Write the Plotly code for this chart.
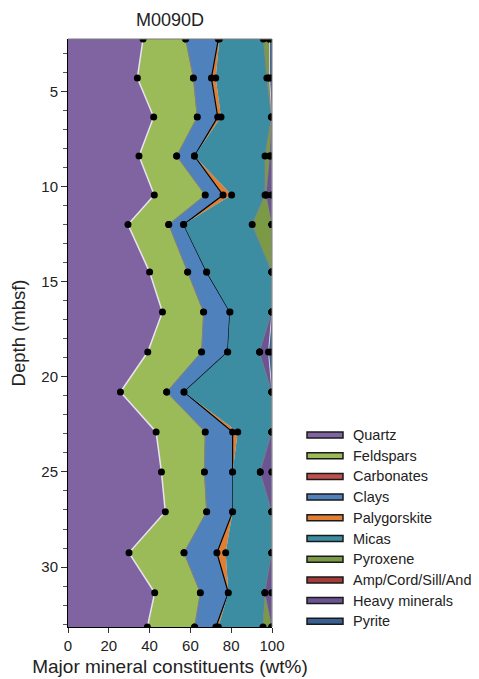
import plotly.graph_objects as go

# ---- data ----
depth = [2.25, 4.3, 6.35, 8.4, 10.45, 12.0, 14.5, 16.6, 18.7, 20.8, 22.9, 25.0, 27.1, 29.25, 31.35, 33.15]

quartz       = [36.8, 34.0, 42.0, 34.8, 42.3, 29.4, 40.0, 46.3, 39.1, 25.7, 43.2, 45.8, 47.7, 29.9, 42.5, 38.9]
feldspars    = [20.9, 27.5, 21.4, 18.5, 25.0, 20.0, 18.7, 20.2, 26.4, 22.7, 24.1, 21.1, 20.3, 27.0, 22.4, 23.2]
carbonates   = [0.0] * 16
clays        = [16.0, 8.8, 10.0, 8.7, 8.7, 7.3, 9.3, 12.9, 12.8, 8.5, 13.4, 13.8, 12.7, 16.1, 13.7, 10.4]
palygorskite = [0.5, 2.1, 1.6, 0.0, 4.2, 0.0, 0.0, 0.0, 0.0, 0.0, 2.5, 0.0, 0.0, 4.3, 0.0, 1.2]
micas        = [21.6, 25.1, 24.7, 34.6, 16.4, 33.6, 32.0, 20.6, 15.7, 43.1, 16.8, 13.6, 19.3, 22.7, 18.0, 21.9]
pyroxene     = [3.0, 1.3, 0.3, 2.4, 0.6, 9.7, 0.0, 0.0, 0.0, 0.0, 0.0, 0.0, 0.0, 0.0, 0.0, 4.4]
amp          = [0.0] * 16
heavy        = [0.0, 0.0, 0.0, 1.0, 2.8, 0.0, 0.0, 0.0, 4.3, 0.0, 0.0, 5.7, 0.0, 0.0, 3.4, 0.0]
pyrite       = [1.2, 1.2, 0.0, 0.0, 0.0, 0.0, 0.0, 0.0, 1.7, 0.0, 0.0, 0.0, 0.0, 0.0, 0.0, 0.0]

names = ["Quartz", "Feldspars", "Carbonates", "Clays", "Palygorskite", "Micas",
         "Pyroxene", "Amp/Cord/Sill/And", "Heavy minerals", "Pyrite"]
series = [quartz, feldspars, carbonates, clays, palygorskite, micas, pyroxene, amp, heavy, pyrite]
fill_colors = ["#8064A2", "#9BBB59", "#C0504D", "#4F81BD", "#E07E34", "#3C8CA2",
               "#7A9A45", "#A33B38", "#6C5494", "#3A5F92"]
line_colors = ["#E8E2F2", "#808080", "#808080", "#000000", "rgba(0,0,0,0)", "#808080",
               "#808080", "rgba(0,0,0,0)", "#D8D0E6", "#808080"]
line_widths = [1.5, 1, 1, 1.2, 0, 1, 1, 0, 1, 1]

FONT = "Liberation Sans, Arial, sans-serif"

# page body has an 8px margin: figure origin sits at page (8, 8)
OFF = 8
W, H = 479 - OFF, 679 - OFF
PL, PR, PT, PB = 68, 272, 39, 627       # plot area in page pixels
ML, MT = PL - OFF, PT - OFF
MR, MB = W - (PR - OFF), H - (PB - OFF)
plot_w = PR - PL
plot_h = PB - PT

fig = go.Figure()
for name, vals, fc, lc, lw in zip(names, series, fill_colors, line_colors, line_widths):
    fig.add_trace(go.Scatter(
        x=vals, y=depth, name=name, stackgroup="one", orientation="h",
        mode="lines+markers", fillcolor=fc,
        line=dict(color=lc, width=lw),
        marker=dict(color="black", size=7),
        showlegend=False, hoverinfo="x+y+name",
    ))

# ---- manual legend (bordered swatches) ----
shapes = []
annotations = []
for i, (name, fc) in enumerate(zip(names, fill_colors)):
    yc = 435 + 20.7 * i          # pixel centre in page
    off = PB - yc                # pixels above plot bottom
    shapes.append(dict(type="rect", xref="paper", yref="paper",
                       xsizemode="pixel", ysizemode="pixel",
                       xanchor=1, yanchor=0,
                       x0=307 - PR, x1=343 - PR, y0=off - 3, y1=off + 3,
                       fillcolor=fc, line=dict(color="#1a1a1a", width=1.5), layer="above"))
    annotations.append(dict(text=name, xref="paper", yref="paper",
                            x=1 + (351 - PR) / plot_w, y=off / plot_h,
                            xanchor="left", yanchor="middle", showarrow=False,
                            font=dict(family=FONT, size=14.5, color="#222")))

# frame top/right
shapes.append(dict(type="line", xref="paper", yref="paper", x0=0, x1=1, y0=1, y1=1,
                   line=dict(color="#7a7a7a", width=1), layer="above"))
shapes.append(dict(type="line", xref="paper", yref="paper", x0=1, x1=1, y0=0, y1=1,
                   line=dict(color="#7a7a7a", width=1), layer="above"))

fig.update_layout(
    width=W, height=H,
    margin=dict(l=ML, r=MR, t=MT, b=MB, autoexpand=False),
    paper_bgcolor="white", plot_bgcolor="white",
    font=dict(family=FONT, size=15, color="#222"),
    title=dict(text="M0090D", x=0.5, xref="paper", xanchor="center",
               y=1 - (20 - OFF) / H, yanchor="middle", font=dict(size=18, family=FONT, color="#222")),
    shapes=shapes, annotations=annotations,
    showlegend=False,
    xaxis=dict(range=[0, 100], tickvals=[0, 20, 40, 60, 80, 100], ticks="outside",
               ticklen=5, tickcolor="#333", showline=True, linecolor="#000", linewidth=1,
               showgrid=False, zeroline=False, automargin=False,
               title=dict(text="Major mineral constituents (wt%)", font=dict(size=19), standoff=6),
               tickfont=dict(size=15)),
    yaxis=dict(range=[33.15, 2.25], tickvals=[5, 10, 15, 20, 25, 30], ticks="outside",
               ticklen=6, tickcolor="#333", showline=True, linecolor="#000", linewidth=1,
               showgrid=False, zeroline=False, automargin=False,
               minor=dict(dtick=1, ticks="outside", ticklen=4, tickcolor="#555", showgrid=False),
               title=dict(text="Depth (mbsf)", font=dict(size=18.5), standoff=10),
               tickfont=dict(size=15)),
)

fig.write_html("out.html")
